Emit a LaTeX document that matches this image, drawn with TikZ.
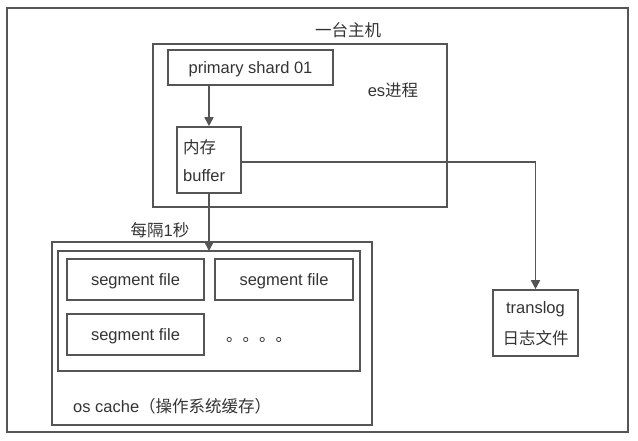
\documentclass[tikz,border=0pt]{standalone}
\usepackage{fontspec}
\setmainfont{Liberation Sans}
\newfontfamily\cjk{Noto Sans CJK SC}
\usetikzlibrary{arrows.meta}
\definecolor{ln}{HTML}{555555}
\definecolor{tx}{HTML}{333333}
\tikzset{
  box/.style={draw=ln, line width=1.6pt},
  lbl/.style={text=tx, font=\fontsize{16.5}{19}\selectfont, inner sep=0pt},
  tbox/.style={box, lbl, text depth=0pt},
  conn/.style={draw=ln, line width=1.6pt, -{Triangle[length=9pt,width=9pt]}},
}
\begin{document}
\begin{tikzpicture}[x=1pt,y=-1pt]
\useasboundingbox (0,0) rectangle (638,440);
% outer host box
\draw[box] (7,8) rectangle (628,432);
\node[lbl] (host) at (348,30) {\cjk 一台主机};
% es process
\draw[box] (153,44) rectangle (447,207);
\node[lbl] (es) at (393,90) {es{\cjk 进程}};
\node[tbox, minimum width=165pt, minimum height=35pt] (shard) at (250.5,67.5) {primary shard 01};
\node[box, lbl, minimum width=64pt, minimum height=66pt] (buf) at (209,160) {};
\node[lbl, anchor=west] (buft1) at (183,147) {\cjk 内存};
\node[lbl, anchor=west] (buft2) at (183,176) {buffer};
% os cache
\draw[box] (52,242) rectangle (372,425);
\draw[box] (58,251) coordinate (innertl) rectangle (360,371);
\coordinate (innertop) at (209,251);
\node[lbl] (every) at (160,230) {{\cjk 每隔}1{\cjk 秒}};
\node[tbox, minimum width=137pt, minimum height=41pt] (s1) at (135.5,279.5) {segment file};
\node[tbox, minimum width=138pt, minimum height=41pt] (s2) at (284,279.5) {segment file};
\node[tbox, minimum width=137pt, minimum height=41pt] (s3) at (135.5,334.5) {segment file};
\node[lbl] (dots) at (259,340) {\cjk 。。。。};
\node[lbl, anchor=west] (oscache) at (73,406) {os cache{\cjk （操作系统缓存）}};
% translog
\node[box, lbl, minimum width=85pt, minimum height=66pt] (trans) at (535.5,323) {};
\node[lbl] (tr1) at (535.5,309) {translog};
\node[lbl] (tr2) at (535.5,338) {\cjk 日志文件};
% connectors
\draw[conn] (shard.south -| buf.north) -- (buf.north);
\draw[conn] (buf.south) -- (innertop);
\draw[conn] (buf.east |- 0,162) -| (trans.north);
\end{tikzpicture}
\end{document}
